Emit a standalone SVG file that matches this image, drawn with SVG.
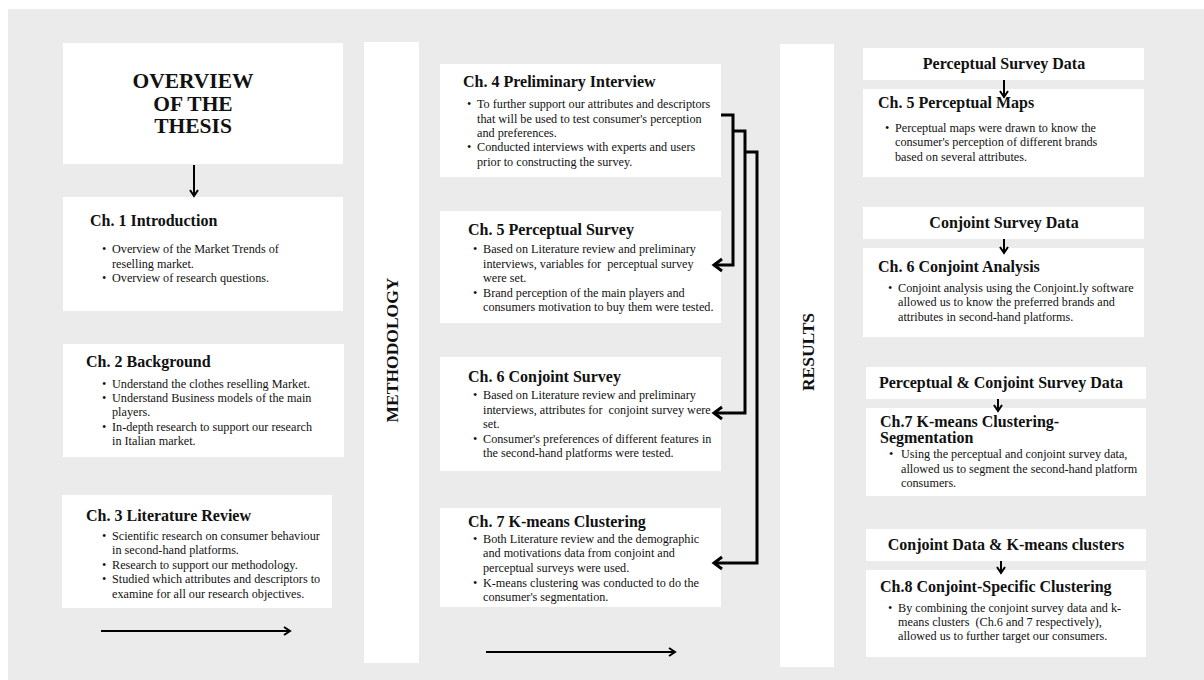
<svg xmlns="http://www.w3.org/2000/svg" width="1204" height="680" viewBox="0 0 1204 680">
<defs>
<style>
.bg{fill:#ebebeb}
.box{fill:#ffffff}
.t{font-family:"Liberation Serif","Times New Roman",serif;fill:#111}
.h{font-size:16px;font-weight:bold}
.d{font-size:16px;font-weight:bold}
.b{font-size:12.2px}
.title{font-size:21.5px;font-weight:bold}
.side{font-size:17.5px;font-weight:bold}
.con{fill:none;stroke:#000;stroke-width:3}
.arr{fill:none;stroke:#000;stroke-width:2}
</style>
<marker id="chev" markerUnits="userSpaceOnUse" markerWidth="14" markerHeight="16" refX="11" refY="8" orient="auto" viewBox="0 0 14 16">
<path d="M3,2 L11,8 L3,14" fill="none" stroke="#000" stroke-width="3"/>
</marker>
<marker id="head" markerUnits="userSpaceOnUse" markerWidth="12" markerHeight="12" refX="10" refY="6" orient="auto" viewBox="0 0 12 12">
<path d="M4,2 L10,6 L4,10" fill="none" stroke="#000" stroke-width="2"/>
</marker>
</defs>
<rect x="0" y="0" width="1204" height="680" fill="#ffffff"/>
<rect class="bg" x="8" y="9" width="1196" height="671"/>

<g id="overview">
<rect class="box" x="63" y="43" width="280" height="121"/>
<text class="t title" x="193" y="88" text-anchor="middle">OVERVIEW</text>
<text class="t title" x="193" y="110.5" text-anchor="middle">OF THE</text>
<text class="t title" x="193" y="133" text-anchor="middle">THESIS</text>
</g>

<g id="ch1">
<rect class="box" x="63" y="197" width="280" height="114"/>
<text class="t h" x="90" y="226">Ch. 1 Introduction</text>
<text class="t b" x="102" y="253">•</text><text class="t b" x="112" y="253">Overview of the Market Trends of</text>
<text class="t b" x="112" y="268">reselling market.</text>
<text class="t b" x="102" y="282">•</text><text class="t b" x="112" y="282">Overview of research questions.</text>
</g>

<g id="ch2">
<rect class="box" x="63" y="344" width="281" height="113"/>
<text class="t h" x="86" y="367">Ch. 2 Background</text>
<text class="t b" x="102" y="388">•</text><text class="t b" x="112" y="388">Understand the clothes reselling Market.</text>
<text class="t b" x="102" y="402">•</text><text class="t b" x="112" y="402">Understand Business models of the main</text>
<text class="t b" x="112" y="416">players.</text>
<text class="t b" x="102" y="431">•</text><text class="t b" x="112" y="431">In-depth research to support our research</text>
<text class="t b" x="112" y="445">in Italian market.</text>
</g>

<g id="ch3">
<rect class="box" x="62" y="495" width="270" height="113"/>
<text class="t h" x="86" y="521">Ch. 3 Literature Review</text>
<text class="t b" x="102" y="540">•</text><text class="t b" x="112" y="540">Scientific research on consumer behaviour</text>
<text class="t b" x="112" y="554">in second-hand platforms.</text>
<text class="t b" x="102" y="569">•</text><text class="t b" x="112" y="569">Research to support our methodology.</text>
<text class="t b" x="102" y="583">•</text><text class="t b" x="112" y="583">Studied which attributes and descriptors to</text>
<text class="t b" x="112" y="598">examine for all our research objectives.</text>
</g>

<g id="methodology">
<rect class="box" x="364" y="42" width="55" height="621"/>
<text class="t side" transform="translate(398,350) rotate(-90)" text-anchor="middle">METHODOLOGY</text>
</g>

<g id="ch4">
<rect class="box" x="440" y="64" width="281" height="113"/>
<text class="t h" x="463" y="87">Ch. 4 Preliminary Interview</text>
<text class="t b" x="467" y="108">•</text><text class="t b" x="477" y="108">To further support our attributes and descriptors</text>
<text class="t b" x="477" y="123">that will be used to test consumer's perception</text>
<text class="t b" x="477" y="137">and preferences.</text>
<text class="t b" x="467" y="151">•</text><text class="t b" x="477" y="151">Conducted interviews with experts and users</text>
<text class="t b" x="477" y="166">prior to constructing the survey.</text>
</g>

<g id="ch5">
<rect class="box" x="440" y="211" width="281" height="112"/>
<text class="t h" x="468" y="235">Ch. 5 Perceptual Survey</text>
<text class="t b" x="473" y="253">•</text><text class="t b" x="483" y="253">Based on Literature review and preliminary</text>
<text class="t b" x="483" y="268" xml:space="preserve">interviews, variables for  perceptual survey</text>
<text class="t b" x="483" y="282">were set.</text>
<text class="t b" x="473" y="297">•</text><text class="t b" x="483" y="297">Brand perception of the main players and</text>
<text class="t b" x="483" y="311">consumers motivation to buy them were tested.</text>
</g>

<g id="ch6">
<rect class="box" x="440" y="357" width="281" height="114"/>
<text class="t h" x="468" y="382">Ch. 6 Conjoint Survey</text>
<text class="t b" x="473" y="399">•</text><text class="t b" x="483" y="399">Based on Literature review and preliminary</text>
<text class="t b" x="483" y="414" xml:space="preserve">interviews, attributes for  conjoint survey were</text>
<text class="t b" x="483" y="428">set.</text>
<text class="t b" x="473" y="443">•</text><text class="t b" x="483" y="443">Consumer's preferences of different features in</text>
<text class="t b" x="483" y="457">the second-hand platforms were tested.</text>
</g>

<g id="ch7">
<rect class="box" x="440" y="508" width="281" height="99"/>
<text class="t h" x="468" y="527">Ch. 7 K-means Clustering</text>
<text class="t b" x="473" y="543">•</text><text class="t b" x="483" y="543">Both Literature review and the demographic</text>
<text class="t b" x="483" y="557">and motivations data from conjoint and</text>
<text class="t b" x="483" y="572">perceptual surveys were used.</text>
<text class="t b" x="473" y="587">•</text><text class="t b" x="483" y="587">K-means clustering was conducted to do the</text>
<text class="t b" x="483" y="601">consumer's segmentation.</text>
</g>

<g id="results">
<rect class="box" x="780" y="44" width="54" height="623"/>
<text class="t side" transform="translate(814,352) rotate(-90)" text-anchor="middle">RESULTS</text>
</g>

<g id="psd">
<rect class="box" x="863" y="48" width="281" height="32"/>
<text class="t d" x="1004" y="69" text-anchor="middle">Perceptual Survey Data</text>
</g>
<g id="r5">
<rect class="box" x="863" y="89" width="281" height="88"/>
<text class="t h" x="878" y="108">Ch. 5 Perceptual Maps</text>
<text class="t b" x="885" y="132">•</text><text class="t b" x="895" y="132">Perceptual maps were drawn to know the</text>
<text class="t b" x="895" y="146">consumer's perception of different brands</text>
<text class="t b" x="895" y="161">based on several attributes.</text>
</g>

<g id="csd">
<rect class="box" x="863" y="207" width="281" height="32"/>
<text class="t d" x="1004" y="228" text-anchor="middle">Conjoint Survey Data</text>
</g>
<g id="r6">
<rect class="box" x="863" y="248" width="281" height="89"/>
<text class="t h" x="878" y="272">Ch. 6 Conjoint Analysis</text>
<text class="t b" x="888" y="292">•</text><text class="t b" x="898" y="292">Conjoint analysis using the Conjoint.ly software</text>
<text class="t b" x="898" y="306">allowed us to know the preferred brands and</text>
<text class="t b" x="898" y="321">attributes in second-hand platforms.</text>
</g>

<g id="pcsd">
<rect class="box" x="866" y="367" width="280" height="32"/>
<text class="t d" x="1001" y="388" text-anchor="middle">Perceptual &amp; Conjoint Survey Data</text>
</g>
<g id="r7">
<rect class="box" x="866" y="408" width="280" height="88"/>
<text class="t h" x="880" y="427">Ch.7 K-means Clustering-</text>
<text class="t h" x="880" y="443">Segmentation</text>
<text class="t b" x="889" y="458">•</text><text class="t b" x="901" y="458">Using the perceptual and conjoint survey data,</text>
<text class="t b" x="901" y="473">allowed us to segment the second-hand platform</text>
<text class="t b" x="901" y="487">consumers.</text>
</g>

<g id="cdk">
<rect class="box" x="866" y="529" width="280" height="32"/>
<text class="t d" x="1006" y="550" text-anchor="middle">Conjoint Data &amp; K-means clusters</text>
</g>
<g id="r8">
<rect class="box" x="866" y="570" width="280" height="87"/>
<text class="t h" x="880" y="592">Ch.8 Conjoint-Specific Clustering</text>
<text class="t b" x="888" y="612">•</text><text class="t b" x="898" y="612">By combining the conjoint survey data and k-</text>
<text class="t b" x="898" y="626" xml:space="preserve">means clusters  (Ch.6 and 7 respectively),</text>
<text class="t b" x="898" y="640">allowed us to further target our consumers.</text>
</g>

<g id="connectors">
<path class="arr" d="M194,165 V196" marker-end="url(#head)"/>
<path class="arr" d="M101,631 H290" marker-end="url(#head)"/>
<path class="arr" d="M486,652 H675" marker-end="url(#head)"/>
<path class="con" d="M721,115 H733 V265 H714" marker-end="url(#chev)"/>
<path class="con" d="M733,131 H745 V413 H714" marker-end="url(#chev)"/>
<path class="con" d="M745,152 H757 V563 H714" marker-end="url(#chev)"/>
<path class="arr" d="M1004,80 V97" marker-end="url(#head)"/>
<path class="arr" d="M1004,239 V253" marker-end="url(#head)"/>
<path class="arr" d="M998,399 V411" marker-end="url(#head)"/>
<path class="arr" d="M1001,561 V573" marker-end="url(#head)"/>
</g>
</svg>
